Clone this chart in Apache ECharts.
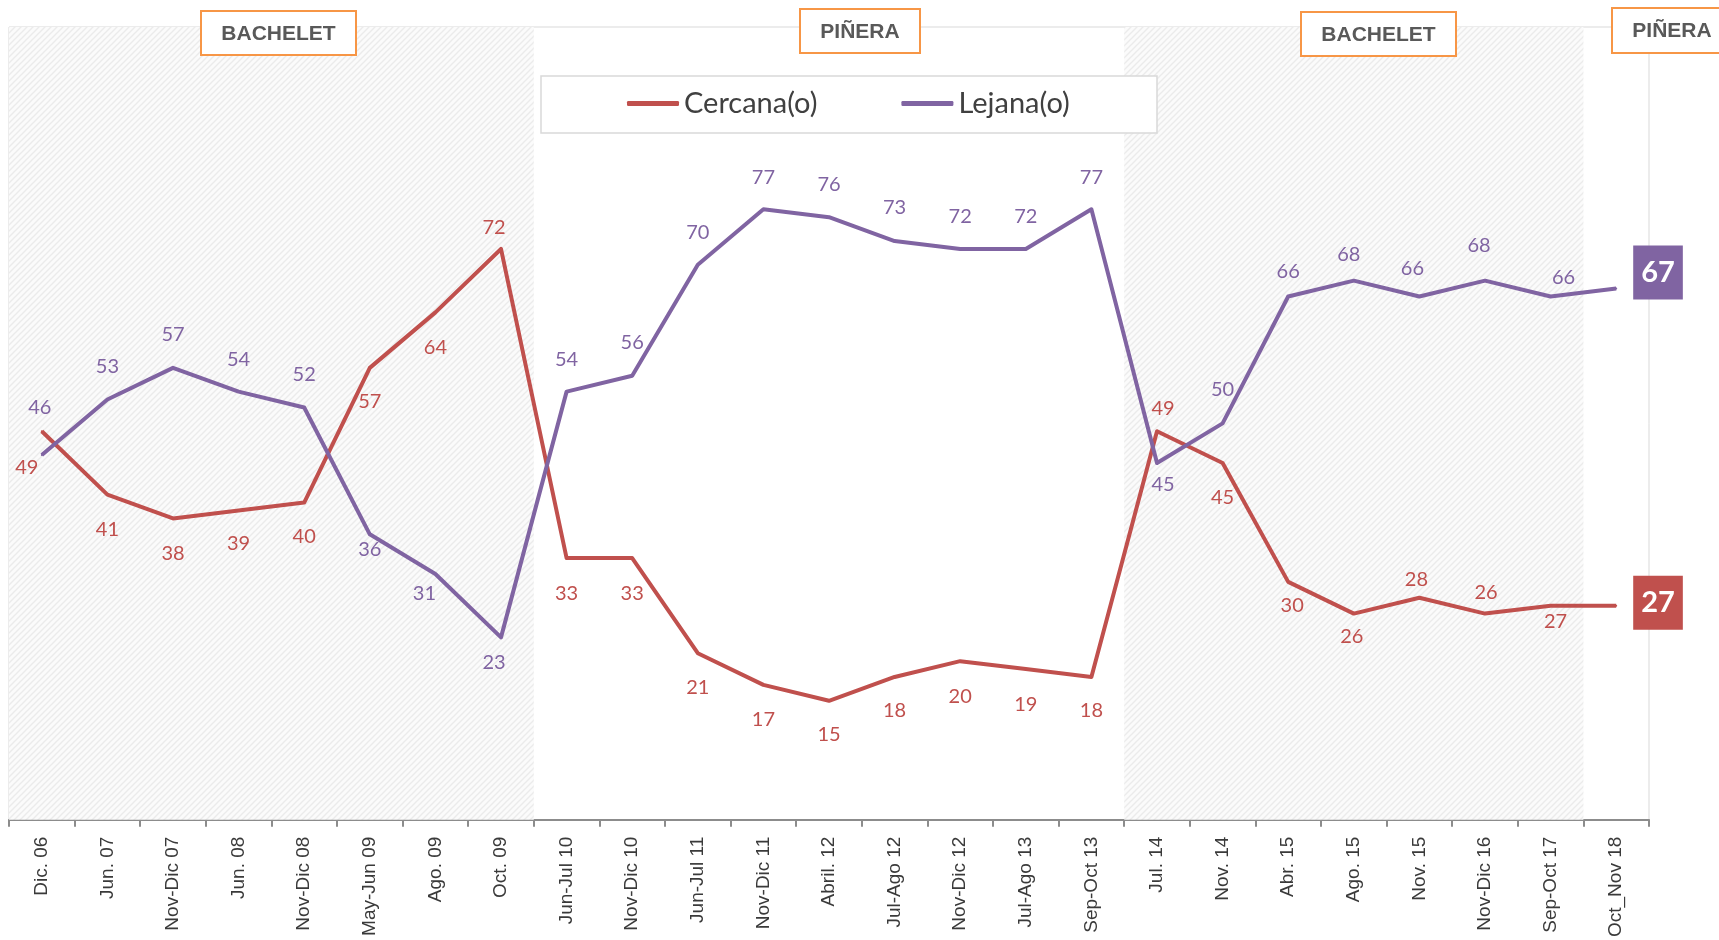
<!DOCTYPE html>
<html>
<head>
<meta charset="utf-8">
<title>Cercana / Lejana</title>
<script src="https://cdn.jsdelivr.net/npm/echarts@6/dist/echarts.min.js"></script>
<style>
  html, body { margin: 0; padding: 0; background: #ffffff; }
  #chart { width: 1719px; height: 940px; }
</style>
</head>
<body>
<div id="chart"></div>
<script>
// Survey waves (x axis)
const categories = [
  'Dic. 06', 'Jun. 07', 'Nov-Dic 07', 'Jun. 08', 'Nov-Dic 08', 'May-Jun 09', 'Ago. 09', 'Oct. 09',
  'Jun-Jul 10', 'Nov-Dic 10', 'Jun-Jul 11', 'Nov-Dic 11', 'Abril. 12', 'Jul-Ago 12', 'Nov-Dic 12',
  'Jul-Ago 13', 'Sep-Oct 13', 'Jul. 14', 'Nov. 14', 'Abr. 15', 'Ago. 15', 'Nov. 15', 'Nov-Dic 16',
  'Sep-Oct 17', 'Oct_Nov 18'
];

// Percentages per wave
const cercana = [49, 41, 38, 39, 40, 57, 64, 72, 33, 33, 21, 17, 15, 18, 20, 19, 18, 49, 45, 30, 26, 28, 26, 27, 27];
const lejana  = [46, 53, 57, 54, 52, 36, 31, 23, 54, 56, 70, 77, 76, 73, 72, 72, 77, 45, 50, 66, 68, 66, 68, 66, 67];

// Government periods, as ranges of wave indices (inclusive)
const periodNames  = ['BACHELET', 'PIÑERA', 'BACHELET', 'PIÑERA'];
const periodStart  = [0, 8, 17, 24];
const periodEnd    = [7, 16, 23, 24];
const periodShaded = [true, false, true, false];

// Label placement around each point: [dx, dy] from the vertex, in px
const cercanaLabelOffset = [
  [-15, 36], [0, 35], [0, 35], [0, 33], [0, 34], [0, 34], [0, 35], [-7, -21],
  [0, 35], [0, 35], [0, 34], [0, 35], [0, 34], [0, 34], [0, 35], [0, 35], [0, 34],
  [6, -23], [0, 35], [4, 24], [-2, 23], [-3, -18], [1, -21], [5, 16], [0, 0]
];
const lejanaLabelOffset = [
  [-2, -47], [0, -33], [0, -33], [0, -32], [0, -33], [0, 15], [-11, 20], [-7, 25],
  [0, -32], [0, -33], [0, -32], [0, -32], [0, -33], [0, -33], [0, -32], [0, -32], [0, -32],
  [6, 22], [0, -34], [0, -25], [-5, -26], [-7, -28], [-6, -35], [13, -19], [0, 0]
];

const RED = '#c0504d';
const PURPLE = '#8064a2';

// Diagonal hatch used to shade the BACHELET periods
function hatchPattern() {
  const c = document.createElement('canvas');
  c.width = 6; c.height = 6;
  const g = c.getContext('2d');
  g.fillStyle = '#fbfbfb';
  g.fillRect(0, 0, 6, 6);
  g.strokeStyle = '#ebebeb';
  g.lineWidth = 1.4;
  g.beginPath();
  g.moveTo(0, 6); g.lineTo(6, 0);
  g.moveTo(-3, 3); g.lineTo(3, -3);
  g.moveTo(3, 9); g.lineTo(9, 3);
  g.stroke();
  return { image: c, repeat: 'repeat' };
}

function seriesData(values, offsets, color, endShift) {
  const last = values.length - 1;
  return values.map((v, i) => {
    if (i === last) {
      return {
        value: v,
        label: {
          position: 'right',
          distance: 16,
          offset: [0, endShift],
          backgroundColor: color,
          color: '#ffffff',
          fontFamily: 'Lato',
          fontWeight: 'bold',
          fontSize: 29,
          lineHeight: 29,
          padding: [13, 8, 12, 8]
        }
      };
    }
    return { value: v, label: { offset: offsets[i] } };
  });
}

const shadedAreas = [];
periodNames.forEach((name, i) => {
  if (periodShaded[i]) {
    shadedAreas.push([{ xAxis: periodStart[i] }, { xAxis: periodEnd[i] + 1 }]);
  }
});

// Period tags along the top edge
const tagBoxes = [
  { x: 201, y: 11, w: 155, h: 44 },
  { x: 800, y: 9, w: 120, h: 44 },
  { x: 1301, y: 12, w: 155, h: 44 },
  { x: 1612, y: 8, w: 120, h: 45 }
];
const tagGraphics = [];
periodNames.forEach((name, i) => {
  const b = tagBoxes[i];
  tagGraphics.push({
    type: 'rect',
    z: 200,
    shape: { x: b.x, y: b.y, width: b.w, height: b.h },
    style: { fill: '#ffffff', stroke: '#f79646', lineWidth: 2 }
  });
  tagGraphics.push({
    type: 'text',
    z: 201,
    x: b.x + b.w / 2,
    y: b.y + b.h / 2 + 1,
    style: {
      text: name,
      fill: '#595959',
      font: 'bold 21px "Liberation Sans", Arial, sans-serif',
      align: 'center',
      verticalAlign: 'middle'
    }
  });
});

const chart = echarts.init(document.getElementById('chart'), null, { renderer: 'canvas' });

chart.setOption({
  animation: false,
  backgroundColor: '#ffffff',
  grid: {
    left: 9, right: 70, top: 27, bottom: 118,
    show: true,
    borderColor: '#d9d9d9',
    borderWidth: 1,
    backgroundColor: 'transparent'
  },
  legend: {
    data: ['Cercana(o)', 'Lejana(o)'],
    left: 627,
    top: 87,
    z: 300,
    icon: 'roundRect',
    itemWidth: 52,
    itemHeight: 5,
    itemGap: 84,
    padding: 0,
    textStyle: { fontFamily: 'Lato', fontSize: 29, color: '#404040', lineHeight: 33 }
  },
  graphic: {
    elements: [
      {
        type: 'rect',
        z: 100,
        shape: { x: 541, y: 76, width: 616, height: 57 },
        style: { fill: '#ffffff', stroke: '#d9d9d9', lineWidth: 1.5 }
      }
    ].concat(tagGraphics)
  },
  xAxis: [
    {
      type: 'category',
      data: categories,
      boundaryGap: true,
      axisLine: { show: true, lineStyle: { color: '#8c8c8c', width: 2 } },
      axisTick: { show: true, alignWithLabel: false, length: 7, lineStyle: { color: '#8c8c8c', width: 2 } },
      axisLabel: {
        interval: 0,
        rotate: 90,
        margin: 17,
        fontFamily: '"Liberation Sans", Arial, sans-serif',
        fontSize: 19,
        color: '#3a3a3a'
      },
      splitLine: { show: false }
    },
    {
      type: 'value',
      min: 0,
      max: categories.length,
      show: false
    }
  ],
  yAxis: {
    type: 'value',
    min: 0,
    max: 100,
    show: false,
    splitLine: { show: false }
  },
  series: [
    {
      name: 'shading',
      type: 'line',
      xAxisIndex: 1,
      data: [],
      silent: true,
      markArea: {
        silent: true,
        itemStyle: { color: hatchPattern() },
        data: shadedAreas
      },
      z: 1
    },
    {
      name: 'Cercana(o)',
      type: 'line',
      data: seriesData(cercana, cercanaLabelOffset, RED, -3),
      symbol: 'circle',
      symbolSize: 2,
      showSymbol: true,
      itemStyle: { color: RED },
      lineStyle: { color: RED, width: 4, join: 'round' },
      label: {
        show: true,
        position: 'inside',
        color: RED,
        fontFamily: 'Lato',
        fontSize: 20
      },
      z: 5
    },
    {
      name: 'Lejana(o)',
      type: 'line',
      data: seriesData(lejana, lejanaLabelOffset, PURPLE, -16),
      symbol: 'circle',
      symbolSize: 2,
      showSymbol: true,
      itemStyle: { color: PURPLE },
      lineStyle: { color: PURPLE, width: 4, join: 'round' },
      label: {
        show: true,
        position: 'inside',
        color: PURPLE,
        fontFamily: 'Lato',
        fontSize: 20
      },
      z: 5
    }
  ]
});
</script>
</body>
</html>
